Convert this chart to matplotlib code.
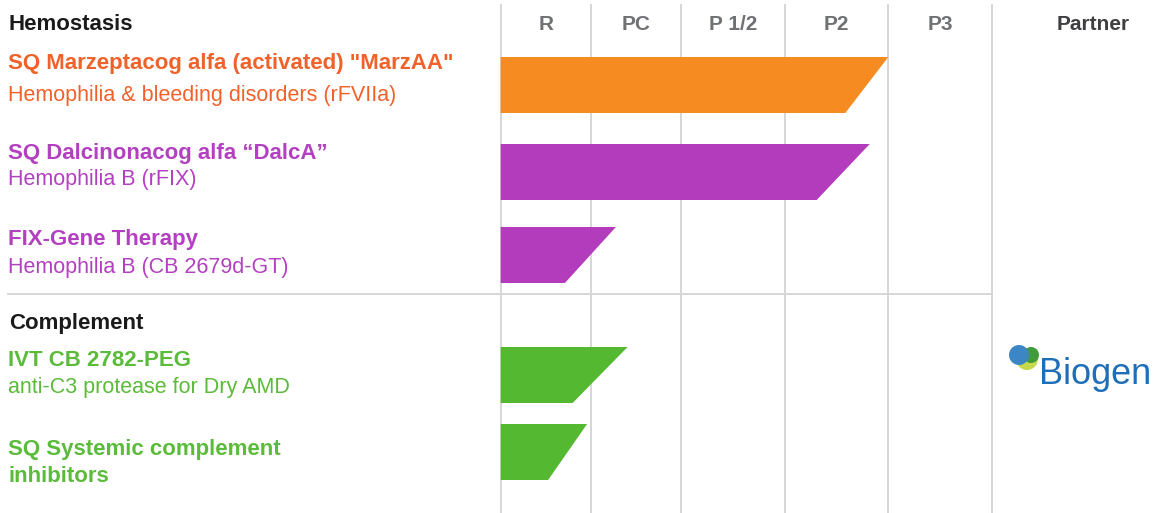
import numpy as np
import matplotlib
matplotlib.use("Agg")
import matplotlib.pyplot as plt
from matplotlib.patches import Polygon, Circle

plt.rcParams['font.family'] = ['Liberation Sans', 'DejaVu Sans']

# Фазы и партнёр
phases = ["R", "PC", "P 1/2", "P2", "P3"]
partner = "Biogen"

# Программы: название, описание, группа
programs = [
    'SQ Marzeptacog alfa (activated) "MarzAA"',
    "SQ Dalcinonacog alfa \u201cDalcA\u201d",
    "FIX-Gene Therapy",
    "IVT CB 2782-PEG",
    "SQ Systemic complement",
]
subtitles = [
    "Hemophilia & bleeding disorders (rFVIIa)",
    "Hemophilia B (rFIX)",
    "Hemophilia B (CB 2679d-GT)",
    "anti-C3 protease for Dry AMD",
    "inhibitors",
]
groups = ["Hemostasis", "Complement"]
# Прогресс (в единицах фаз, 0 = начало R)
progress = [4.0, 3.82, 1.28, 1.41, 0.96]

# Оформление
W, H = 1153, 513
col_edges = [500.7, 590.7, 680.7, 785, 888.3, 992.3]
bar_tops = [57, 144, 227, 347, 424]
bar_h = 56
slants = [43, 53, 51, 55, 39]
bar_fill = ["#f68c21", "#b33cbc", "#b33cbc", "#55b831", "#55b831"]
text_col = ["#f1622a", "#b340c0", "#b340c0", "#5bbb3a", "#5bbb3a"]
sub_bold = [False, False, False, False, True]
title_y = [63, 154, 240, 360, 449]
sub_y = [95, 180, 267, 387, 476]
group_y = [25, 324]

fig = plt.figure(figsize=(W / 100, H / 100), dpi=100)
ax = fig.add_axes([0, 0, 1, 1])
ax.set_xlim(0, W)
ax.set_ylim(H, 0)
ax.axis("off")

# Сетка
for x in col_edges:
    ax.plot([x, x], [5, H], color="#d6d6d8", lw=1.4, zorder=1)
ax.plot([8, col_edges[-1]], [294, 294], color="#d6d6d8", lw=1.4, zorder=1)

# Заголовки колонок
for i, name in enumerate(phases):
    xc = (col_edges[i] + col_edges[i + 1]) / 2
    ax.text(xc, 24, name, ha="center", va="center", fontsize=15,
            fontweight="bold", color="#707174")
ax.text(1093, 24, "Partner", ha="center", va="center", fontsize=15,
        fontweight="bold", color="#3f3f41")

# Группы
for g, y in zip(groups, group_y):
    ax.text(9, y, g, ha="left", va="center", fontsize=16,
            fontweight="bold", color="#1a1a1a")

# Бары
for i, p in enumerate(progress):
    tip = np.interp(p, np.arange(len(col_edges)), col_edges)
    x0 = col_edges[0]
    top = bar_tops[i]
    bot = top + bar_h
    poly = Polygon([(x0, top), (tip, top), (tip - slants[i], bot), (x0, bot)],
                   closed=True, facecolor=bar_fill[i], edgecolor="none", zorder=2)
    ax.add_patch(poly)
    ax.text(8, title_y[i], programs[i], ha="left", va="center", fontsize=16,
            fontweight="bold", color=text_col[i])
    ax.text(8, sub_y[i], subtitles[i], ha="left", va="center",
            fontsize=16 if sub_bold[i] else 15.5,
            fontweight="bold" if sub_bold[i] else "normal", color=text_col[i])

# Логотип партнёра
ax.add_patch(Circle((1027, 359), 11, facecolor="#c5d94a", edgecolor="none", zorder=3))
ax.add_patch(Circle((1031, 355), 8, facecolor="#3f9b3c", edgecolor="none", zorder=3))
ax.add_patch(Circle((1019, 355), 10, facecolor="#3d86c6", edgecolor="none", zorder=4))
ax.text(1039, 374, partner, ha="left", va="center", fontsize=26,
        color="#1f6fb8")

fig.savefig("out.png", dpi=100)
